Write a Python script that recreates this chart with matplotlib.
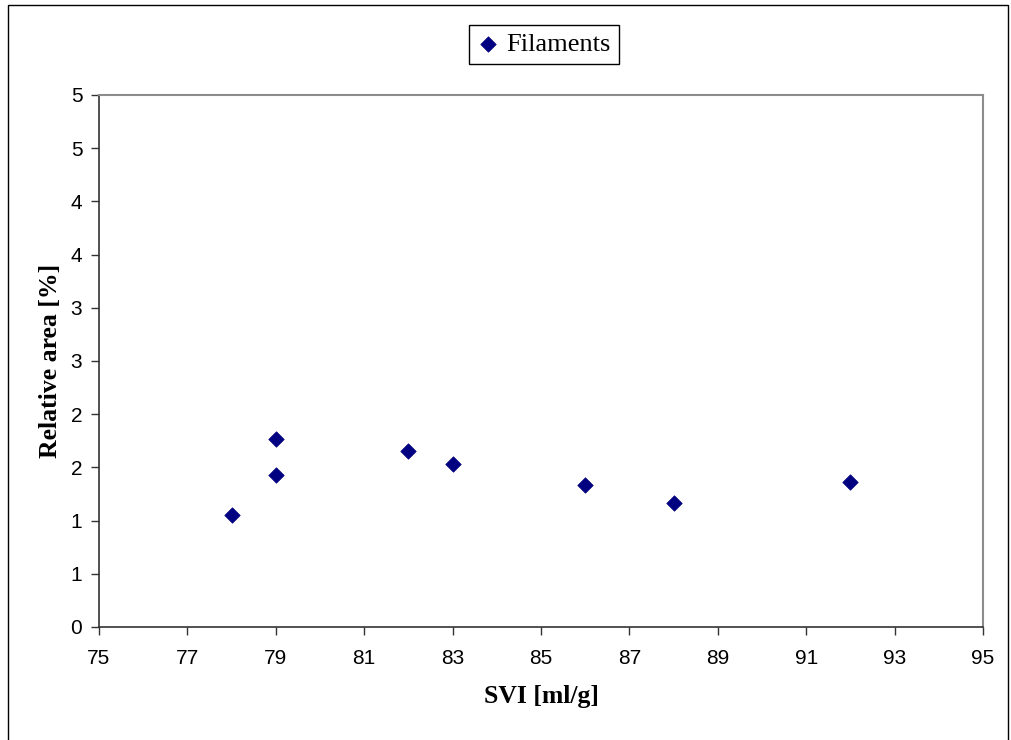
import math
import matplotlib
matplotlib.use("Agg")
import matplotlib.pyplot as plt
from matplotlib.patches import Rectangle
from matplotlib.ticker import FixedLocator, FuncFormatter

# SVI [ml/g] vs. relative filament area [%]
svi = [78, 79, 79, 82, 83, 86, 88, 92]
rel_area = [1.05, 1.77, 1.43, 1.65, 1.53, 1.33, 1.17, 1.36]
series_name = "Filaments"

x_ticks = list(range(75, 96, 2))
y_ticks = [i * 0.5 for i in range(11)]

navy = "#000080"

fig = plt.figure(figsize=(10.12, 7.4), dpi=100)
fig.patch.set_facecolor("white")

# outer chart frame
fig.patches.append(Rectangle((8 / 1012, -0.05), 1000 / 1012, 1.05 - 5 / 740,
                             transform=fig.transFigure, fill=False,
                             edgecolor="black", linewidth=1.0))

ax = fig.add_axes([99 / 1012, 1 - 627 / 740, 884 / 1012, 532 / 740])
ax.scatter(svi, rel_area, marker="D", s=62, color=navy, edgecolors=navy,
           linewidths=0.5, label=series_name, zorder=3, clip_on=False)

ax.set_xlim(75, 95)
ax.set_ylim(0, 5)
ax.xaxis.set_major_locator(FixedLocator(x_ticks))
ax.yaxis.set_major_locator(FixedLocator(y_ticks))
# whole-number labels, rounded half up
ax.yaxis.set_major_formatter(FuncFormatter(lambda v, p: f"{int(math.floor(v + 0.5))}"))

for side in ("top", "right"):
    ax.spines[side].set_color("#8c8c8c")
    ax.spines[side].set_linewidth(1.5)
for side in ("left", "bottom"):
    ax.spines[side].set_color("#333333")
    ax.spines[side].set_linewidth(1.2)

ax.tick_params(axis="both", direction="out", length=6, width=1.0,
               color="#333333", labelsize=15)
ax.tick_params(axis="x", pad=10)
ax.tick_params(axis="y", pad=6)
for lab in ax.get_xticklabels() + ax.get_yticklabels():
    lab.set_fontfamily("Liberation Sans")

ax.set_xlabel("SVI [ml/g]", fontfamily="Liberation Serif", fontweight="bold",
              fontsize=18.5, labelpad=12)
ax.set_ylabel("Relative area [%]", fontfamily="Liberation Serif", fontweight="bold",
              fontsize=18.5, labelpad=6)

handles, labels = ax.get_legend_handles_labels()
leg = fig.legend(handles, labels, loc="center",
                 bbox_to_anchor=(544 / 1012, 1 - 44.5 / 740),
                 prop={"family": "Liberation Serif", "size": 19},
                 frameon=True, fancybox=False,
                 edgecolor="black", framealpha=1, handletextpad=0.3,
                 handlelength=0.8, borderpad=0.3, markerscale=1.0)
leg.get_frame().set_linewidth(1.0)

fig.savefig("out.png", dpi=100, facecolor="white")
